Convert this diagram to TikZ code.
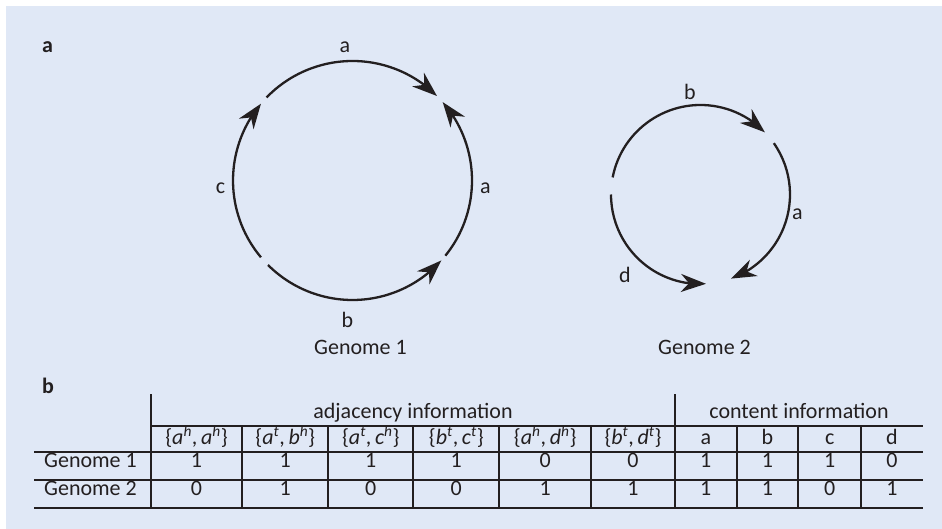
\documentclass[tikz,border=0pt]{standalone}
\usepackage{fontspec}
\setmainfont{Carlito}
\usetikzlibrary{positioning}
\usetikzlibrary{arrows.meta}
\usetikzlibrary{bending}
\definecolor{boxblue}{RGB}{224,232,246}
\definecolor{ink}{RGB}{35,31,32}
\tikzset{>={Stealth[length=25pt, width=18pt, inset=8pt]}}
\tikzstyle{seg} = [->, line width=2.3pt, draw=ink]
\tikzstyle{lbl} = [text=ink, inner sep=0, font=\fontsize{22}{26}\selectfont]
\tikzstyle{panel} = [text=ink, inner sep=0, font=\fontsize{22}{26}\selectfont\bfseries]
\tikzstyle{cell} = [lbl, anchor=base]
\tikzstyle{rule} = [draw=ink, line width=2.3pt]
\tikzstyle{sep} = [draw=ink, line width=1.7pt]
\newcommand{\adjpair}[4]{\{\textit{#1}\textsuperscript{\textit{#2}},\,\textit{#3}\textsuperscript{\textit{#4}}\}}

\begin{document}
\begin{tikzpicture}[x=1pt, y=1pt]
\useasboundingbox (0,0) rectangle (942,-529);
\fill [boxblue] (6,-6) rectangle (942,-529);

% a: the two genomes
\node [panel] (pa) at (47.5,-47) {a};
\coordinate (g1) at (352.5,-180.5);
\coordinate (g2) at (700.5,-194.5);

\draw [seg] ([shift={(136:119.5)}]g1) arc [start angle=136, end angle=45, radius=119.5];
\draw [seg] ([shift={(-39:119.5)}]g1) arc [start angle=-39, end angle=41, radius=119.5];
\draw [seg] ([shift={(225:119.5)}]g1) arc [start angle=225, end angle=318, radius=119.5];
\draw [seg] ([shift={(220:119.5)}]g1) arc [start angle=220, end angle=140, radius=119.5];

\draw [seg] ([shift={(169:89.5)}]g2) arc [start angle=169, end angle=44, radius=89.5];
\draw [seg] ([shift={(35:89.5)}]g2) arc [start angle=35, end angle=-70, radius=89.5];
\draw [seg] ([shift={(180:89.5)}]g2) arc [start angle=180, end angle=273.5, radius=89.5];

\node [lbl] (g1top) at (345,-47) {a};
\node [lbl] (g1right) at (485.5,-188.5) {a};
\node [lbl] (g1left) at (220.5,-188.5) {c};
\node [lbl] (g1bottom) at (347.5,-319.5) {b};
\node [lbl] (g1name) at (360.5,-347) {Genome 1};

\node [lbl] (g2top) at (690,-91.5) {b};
\node [lbl] (g2right) at (797.5,-214.5) {a};
\node [lbl] (g2left) at (625,-275) {d};
\node [lbl] (g2name) at (704.5,-347) {Genome 2};

% b: the table
\node [panel] (pb) at (48,-386) {b};

\node [cell] (adj) at (413,-418.3) {adjacency information};
\node [cell] (cont) at (799,-418.3) {content information};

\node [cell] (h1) at (196.5,-444.3) {\adjpair{a}{h}{a}{h}};
\node [cell] (h2) at (285.3,-444.3) {\adjpair{a}{t}{b}{h}};
\node [cell] (h3) at (370.8,-444.3) {\adjpair{a}{t}{c}{h}};
\node [cell] (h4) at (456.3,-444.3) {\adjpair{b}{t}{c}{t}};
\node [cell] (h5) at (545.2,-444.3) {\adjpair{a}{h}{d}{h}};
\node [cell] (h6) at (633,-444.3) {\adjpair{b}{t}{d}{t}};
\node [cell] (h7) at (705.8,-444.3) {a};
\node [cell] (h8) at (767.5,-444.3) {b};
\node [cell] (h9) at (829.7,-444.3) {c};
\node [cell] (h10) at (892,-444.3) {d};

\node [cell] (row1) at (90.5,-467.3) {Genome 1};
\node [cell] (row2) at (90.5,-495) {Genome 2};
\foreach \x/\u/\w [count=\i] in {196.5/1/0, 285.3/1/1, 370.8/1/0, 456.3/1/0, 545.2/0/1,
    633/0/1, 705.8/1/1, 767.5/1/1, 829.7/1/0, 892/0/1} {
  \node [cell] (ga\i) at (\x,-467.3) {\u};
  \node [cell] (gb\i) at (\x,-495) {\w};
}

\draw [rule] (150.7,-394) -- (150.7,-508.3);
\draw [rule] (675,-394) -- (675,-508.3);
\draw [rule] (150.7,-425.7) -- (923,-425.7);
\foreach \y in {452.3, 480, 508.3}
  \draw [rule] (34,-\y) -- (923,-\y);
\foreach \x in {242.3, 328.3, 413.3, 499.3, 591, 736.7, 798.3, 861}
  \draw [sep] (\x,-425.7) -- (\x,-508.3);
\end{tikzpicture}
\end{document}
